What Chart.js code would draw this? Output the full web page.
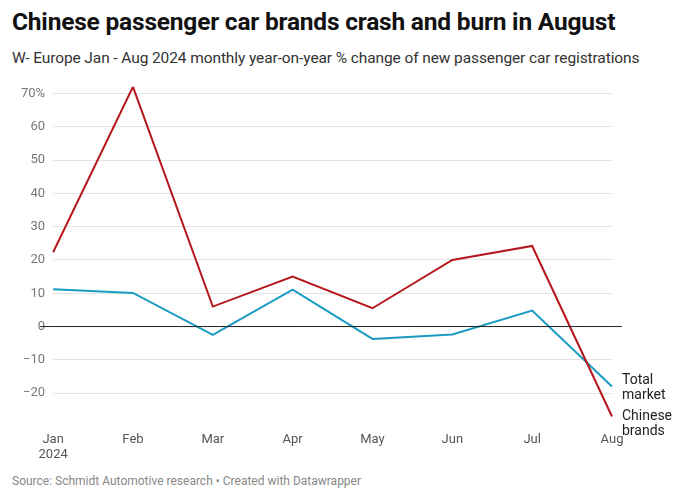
<!DOCTYPE html>
<html>
<head>
<meta charset="utf-8">
<script src="https://cdn.jsdelivr.net/npm/chart.js@4"></script>
<style>
  body { margin: 0; width: 680px; height: 500px; font-family: Roboto, sans-serif; background: #fff; position: relative; overflow: hidden; }
  h1 { position: absolute; left: 12px; top: 7px; margin: 0; font-size: 24.5px; font-weight: 700; color: #111; letter-spacing: -0.2px; }
  .sub { position: absolute; left: 12px; top: 49px; font-size: 15.5px; color: #333; letter-spacing: -0.1px; }
  .src { position: absolute; left: 12px; top: 474px; font-size: 12px; color: #888; }
  #wrap { position: absolute; left: 0; top: 71px; width: 680px; height: 396px; }
</style>
</head>
<body>
<h1>Chinese passenger car brands crash and burn in August</h1>
<div class="sub">W- Europe Jan - Aug 2024 monthly year-on-year % change of new passenger car registrations</div>
<div id="wrap"><canvas id="chart"></canvas></div>
<div class="src">Source: Schmidt Automotive research • Created with Datawrapper</div>
<script>
const months = [["Jan", "2024"], "Feb", "Mar", "Apr", "May", "Jun", "Jul", "Aug"];
const chineseBrands = [22.3, 72, 6, 15, 5.5, 20, 24.2, -27];
const totalMarket = [11.2, 10.1, -2.5, 11.1, -3.7, -2.4, 4.8, -18];
const yTicks = [-20, -10, 0, 10, 20, 30, 40, 50, 60, 70];

const endLabels = {
  id: "endLabels",
  afterDatasetsDraw(chart) {
    const ctx = chart.ctx;
    ctx.save();
    ctx.font = "14px Roboto, sans-serif";
    ctx.fillStyle = "#222";
    ctx.textBaseline = "middle";
    const texts = [["Chinese", "brands"], ["Total", "market"]];
    const offs = [[0, 15], [-6, 9]];
    chart.data.datasets.forEach((ds, i) => {
      const pts = chart.getDatasetMeta(i).data;
      const p = pts[pts.length - 1];
      ctx.fillText(texts[i][0], p.x + 10, p.y + offs[i][0]);
      ctx.fillText(texts[i][1], p.x + 10, p.y + offs[i][1]);
    });
    const y = chart.scales.y.getPixelForValue(0);
    ctx.strokeStyle = "#222";
    ctx.lineWidth = 1;
    ctx.beginPath();
    ctx.moveTo(chart.chartArea.left - 13, y);
    ctx.lineTo(chart.chartArea.right + 10, y);
    ctx.stroke();
    ctx.restore();
  }
};

new Chart(document.getElementById("chart"), {
  type: "line",
  data: {
    labels: months,
    datasets: [
      { label: "Chinese brands", data: chineseBrands, borderColor: "#b5171c", borderWidth: 2, pointRadius: 0, tension: 0 },
      { label: "Total market", data: totalMarket, borderColor: "#1a9bc2", borderWidth: 2, pointRadius: 0, tension: 0 }
    ]
  },
  plugins: [endLabels],
  options: {
    responsive: true,
    maintainAspectRatio: false,
    animation: false,
    layout: { padding: { left: 13, right: 68, top: 0, bottom: 0 } },
    plugins: { legend: { display: false }, tooltip: { enabled: false } },
    scales: {
      x: {
        offset: false,
        grid: { display: false },
        border: { display: false },
        ticks: { color: "#555", font: { size: 13, family: "Roboto" }, padding: 4 }
      },
      y: {
        min: -28,
        max: 72,
        afterBuildTicks(axis) { axis.ticks = yTicks.map(v => ({ value: v })); },
        grid: { color: "#e3e3e3", drawTicks: false },
        border: { display: false },
        ticks: {
          color: "#777",
          font: { size: 13, family: "Roboto" },
          padding: 8,
          callback: v => v === 70 ? "70%" : (v < 0 ? "\u2212" + Math.abs(v) : v)
        }
      }
    }
  }
});
</script>
</body>
</html>
